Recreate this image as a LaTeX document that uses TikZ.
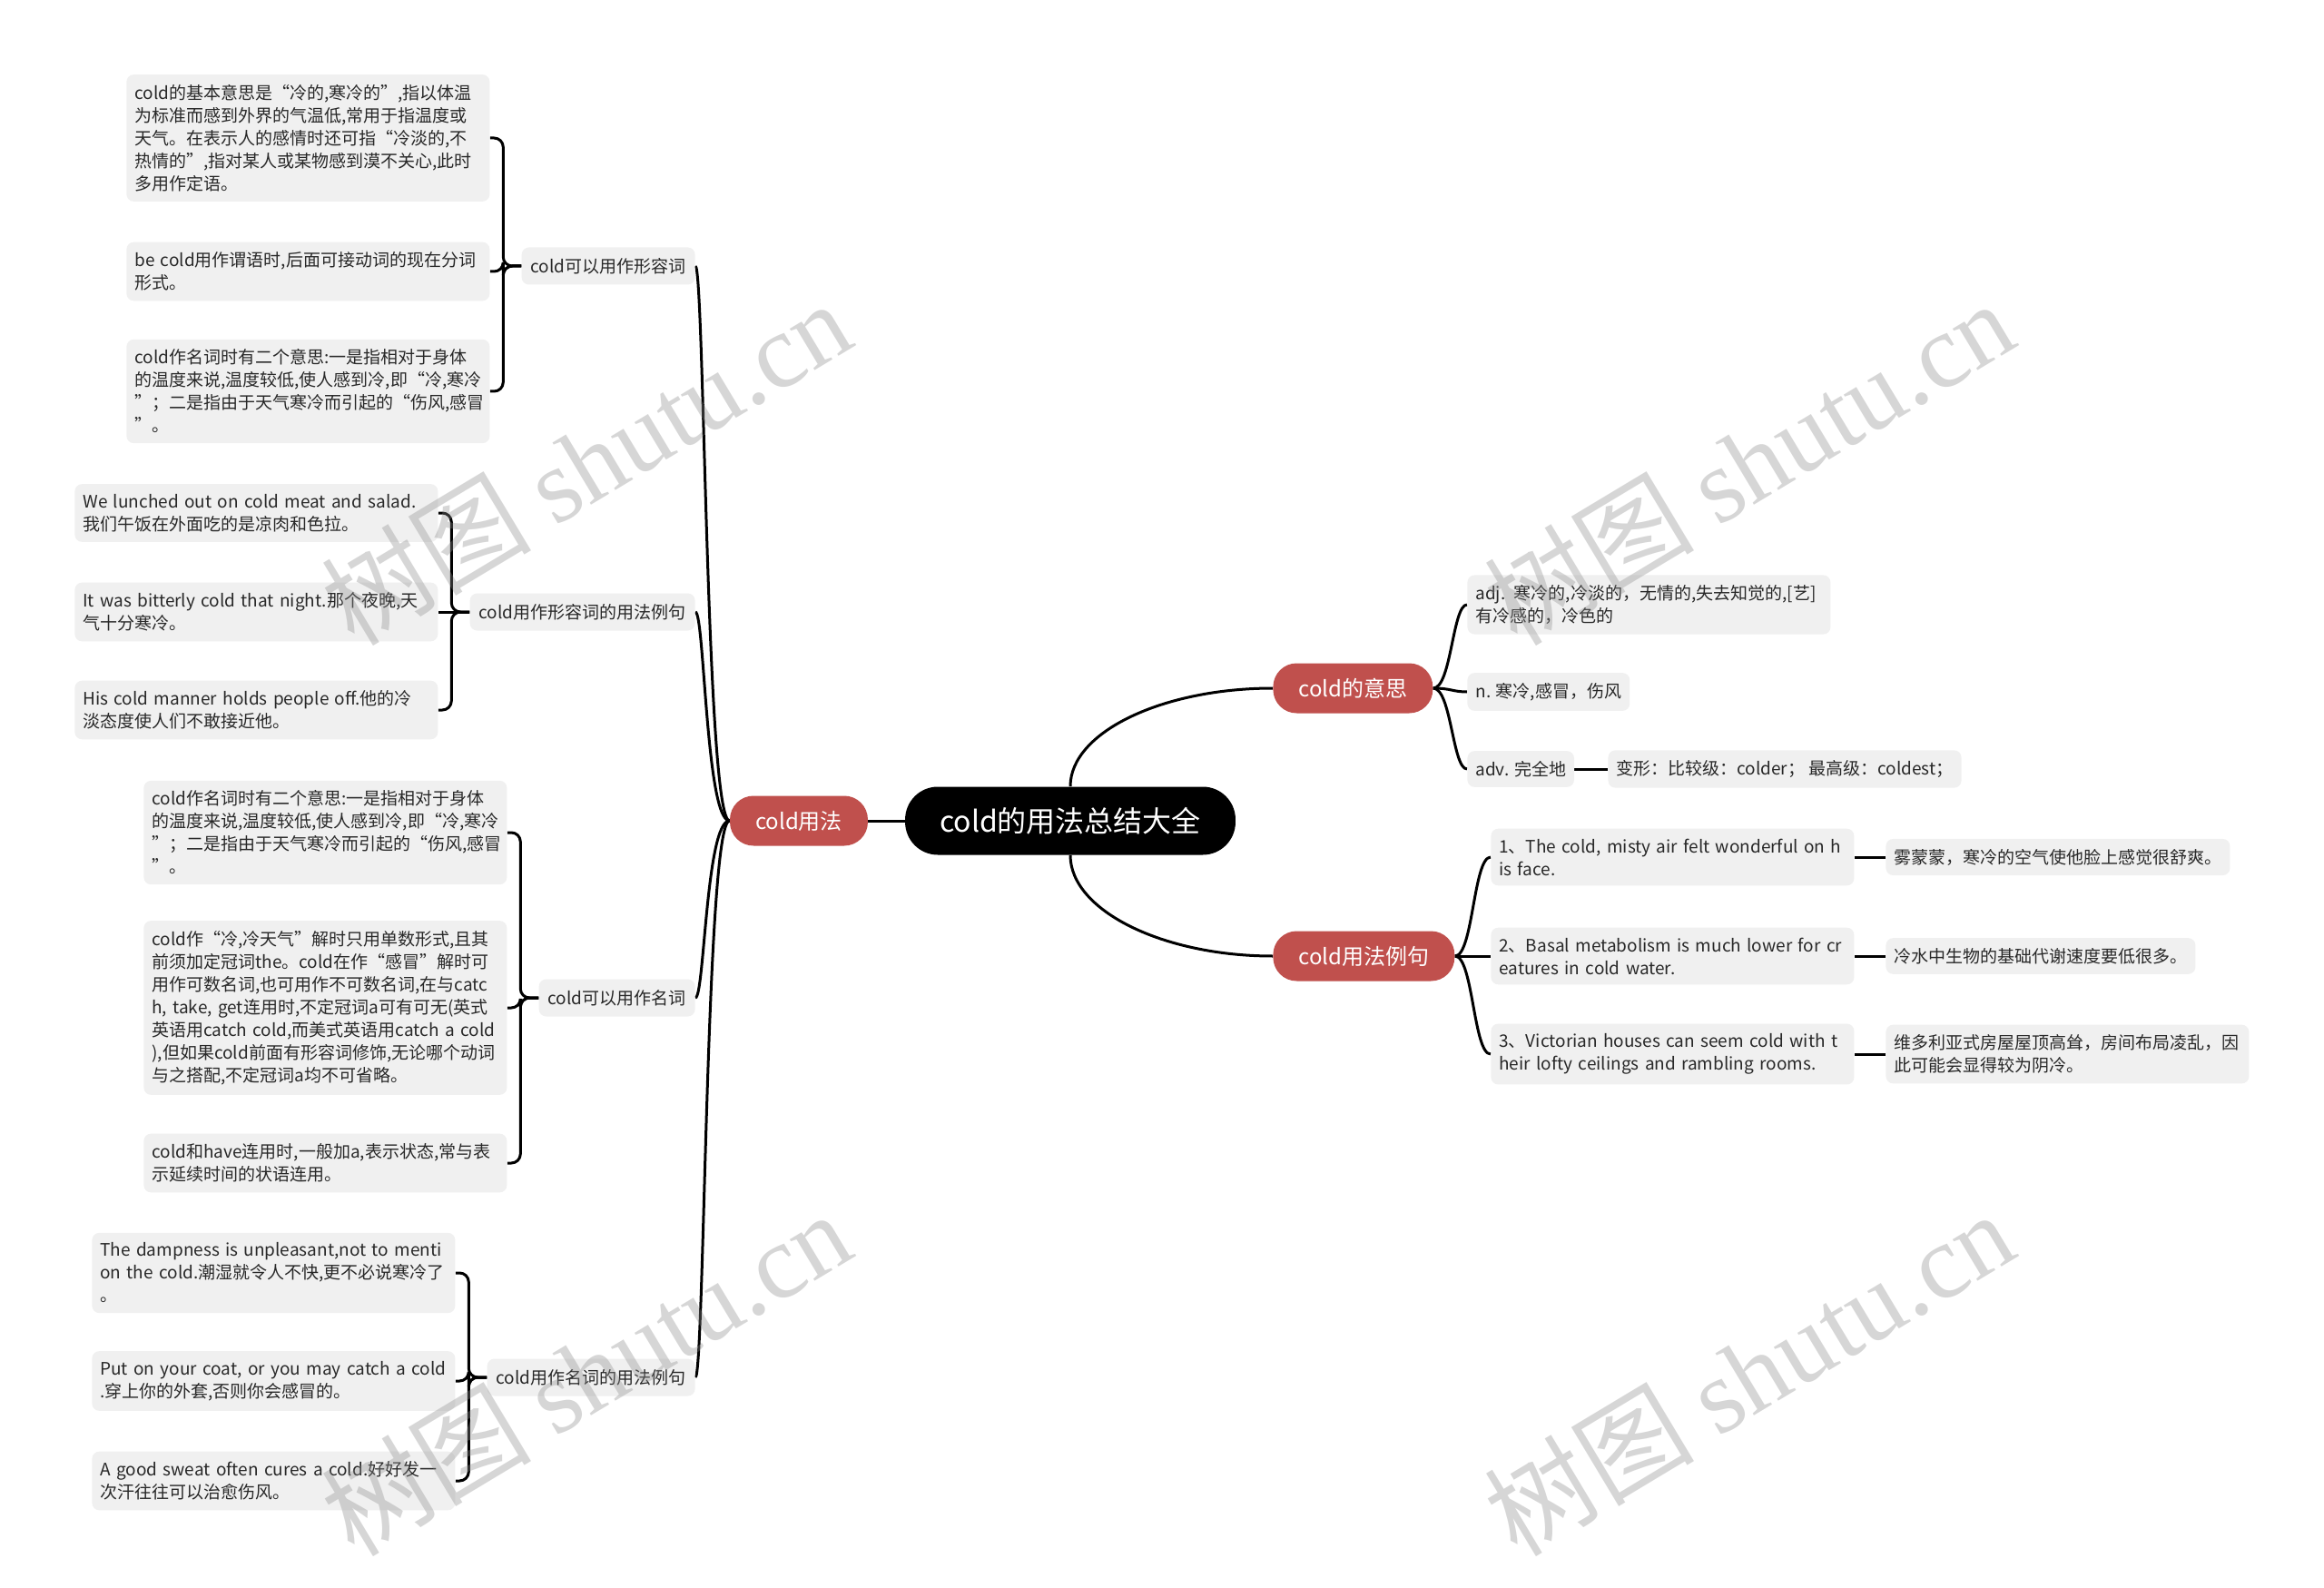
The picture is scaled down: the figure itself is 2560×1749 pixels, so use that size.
\documentclass[tikz,border=0pt]{standalone}
\usepackage{fontspec}
\setmainfont{Noto Sans CJK SC}
\newfontfamily\wmserif{Liberation Serif}
\definecolor{boxgray}{RGB}{240,240,240}
\definecolor{topicred}{RGB}{192,80,77}
\definecolor{ink}{RGB}{40,40,40}
\pgfdeclarelayer{bg}
\pgfsetlayers{bg,main}
\tikzset{
  conn/.style={line width=1.5pt, black},
  rootbox/.style={fill=black, text=white, rounded corners=18pt, minimum height=37.5pt, inner xsep=19pt, font=\fontsize{16}{20}\selectfont},
  topicbox/.style={fill=topicred, text=white, rounded corners=13pt, minimum height=27.5pt, inner xsep=14pt, font=\fontsize{12}{15}\selectfont},
  subbox/.style={fill=boxgray, text=ink, rounded corners=4pt, minimum height=20.5pt, inner xsep=5pt, font=\fontsize{9.5}{12.5}\selectfont},
  leafbox/.style={fill=boxgray, text=ink, rounded corners=4pt, inner xsep=4.5pt, inner ysep=5.5pt, font=\fontsize{9.5}{12.5}\selectfont, align=left, anchor=west},
  widebox/.style={leafbox, text width=191pt},
  wm/.style={rotate=31, text=black!45, text opacity=0.35, font=\fontsize{58}{60}\selectfont},
}
\begin{document}
\begin{tikzpicture}[x=0.5pt,y=-0.5pt]
\useasboundingbox (0,0) rectangle (2560,1749);
\begin{pgfonlayer}{bg}
\fill[white] (0,0) rectangle (2560,1749);
\end{pgfonlayer}

% main nodes
\node[rootbox] (root) at (1179,904) {cold的用法总结大全};
\node[topicbox] (usage) at (880,904) {cold用法};
\node[topicbox, anchor=west] (meaning) at (1402,758) {cold的意思};
\node[topicbox, anchor=west] (examples) at (1402,1053) {cold用法例句};

% left level 2
\node[subbox, anchor=east] (adjA) at (766,293) {cold可以用作形容词};
\node[subbox, anchor=east] (adjEx) at (766,674) {cold用作形容词的用法例句};
\node[subbox, anchor=east] (nounA) at (766,1099) {cold可以用作名词};
\node[subbox, anchor=east] (nounEx) at (766,1517) {cold用作名词的用法例句};

% left leaves
\node[widebox] (a1) at (139,152) {cold的基本意思是“冷的,寒冷的”,指以体温\\为标准而感到外界的气温低,常用于指温度或\\天气。在表示人的感情时还可指“冷淡的,不\\热情的”,指对某人或某物感到漠不关心,此时\\多用作定语。};
\node[widebox] (a2) at (139,299) {be cold用作谓语时,后面可接动词的现在分词\\形式。};
\node[widebox] (a3) at (139,431) {cold作名词时有二个意思:一是指相对于身体\\的温度来说,温度较低,使人感到冷,即“冷,寒冷\\”；二是指由于天气寒冷而引起的“伤风,感冒\\”。};

\node[widebox] (e1) at (82,565) {We lunched out on cold meat and salad.\\我们午饭在外面吃的是凉肉和色拉。};
\node[widebox] (e2) at (82,674) {It was bitterly cold that night.那个夜晚,天\\气十分寒冷。};
\node[widebox] (e3) at (82,782) {His cold manner holds people off.他的冷\\淡态度使人们不敢接近他。};

\node[widebox] (n1) at (158,917) {cold作名词时有二个意思:一是指相对于身体\\的温度来说,温度较低,使人感到冷,即“冷,寒冷\\”；二是指由于天气寒冷而引起的“伤风,感冒\\”。};
\node[widebox] (n2) at (158,1110) {cold作“冷,冷天气”解时只用单数形式,且其\\前须加定冠词the。cold在作“感冒”解时可\\用作可数名词,也可用作不可数名词,在与catc\\h, take, get连用时,不定冠词a可有可无(英式\\英语用catch cold,而美式英语用catch a cold\\),但如果cold前面有形容词修饰,无论哪个动词\\与之搭配,不定冠词a均不可省略。};
\node[widebox] (n3) at (158,1281) {cold和have连用时,一般加a,表示状态,常与表\\示延续时间的状语连用。};

\node[widebox] (x1) at (101,1402) {The dampness is unpleasant,not to menti\\on the cold.潮湿就令人不快,更不必说寒冷了\\。};
\node[widebox] (x2) at (101,1521) {Put on your coat, or you may catch a cold\\.穿上你的外套,否则你会感冒的。};
\node[widebox] (x3) at (101,1631) {A good sweat often cures a cold.好好发一\\次汗往往可以治愈伤风。};

% right leaves
\node[widebox] (adjM) at (1616,666) {adj. 寒冷的,冷淡的，无情的,失去知觉的,[艺]\\有冷感的，冷色的};
\node[leafbox] (nM) at (1616,762) {n. 寒冷,感冒，伤风};
\node[leafbox] (advM) at (1616,847) {adv. 完全地};
\node[leafbox] (formM) at (1771,847) {变形：比较级：colder；~最高级：coldest；};

\node[widebox] (ex1) at (1642,944) {1、The cold, misty air felt wonderful on h\\is face.};
\node[widebox] (ex2) at (1642,1053) {2、Basal metabolism is much lower for cr\\eatures in cold water.};
\node[widebox] (ex3) at (1642,1161) {3、Victorian houses can seem cold with t\\heir lofty ceilings and rambling rooms.};
\node[leafbox] (tr1) at (2077,944) {雾蒙蒙，寒冷的空气使他脸上感觉很舒爽。};
\node[leafbox] (tr2) at (2077,1053) {冷水中生物的基础代谢速度要低很多。};
\node[widebox] (tr3) at (2077,1161) {维多利亚式房屋屋顶高耸，房间布局凌乱，因\\此可能会显得较为阴冷。};

% connectors
\begin{pgfonlayer}{bg}
\draw[conn] (root.west) -- (usage.east);
\draw[conn] (root.north) .. controls +(0,-60) and +(-121,0) .. (meaning.west);
\draw[conn] (root.south) .. controls +(0,61) and +(-121,0) .. (examples.west);
\foreach \c in {adjA,adjEx,nounA,nounEx}
  \draw[conn] (usage.west) .. controls +(-26,0) and +(10,0) .. (\c.east);
\foreach \c in {a1,a2,a3}
  \draw[conn, rounded corners=5pt] (adjA.west) -- ++(-20,0) |- (\c.east);
\foreach \c in {e1,e3}
  \draw[conn, rounded corners=5pt] (adjEx.west) -- ++(-20,0) |- (\c.east);
\draw[conn] (adjEx.west) -- (e2.east);
\foreach \c in {n1,n2,n3}
  \draw[conn, rounded corners=5pt] (nounA.west) -- ++(-20,0) |- (\c.east);
\foreach \c in {x1,x2,x3}
  \draw[conn, rounded corners=5pt] (nounEx.west) -- ++(-20,0) |- (\c.east);
\foreach \c in {adjM,nM,advM}
  \draw[conn] (meaning.east) .. controls +(20,0) and +(-16,0) .. (\c.west);
\draw[conn] (advM.east) -- (formM.west);
\foreach \c in {ex1,ex2,ex3}
  \draw[conn] (examples.east) .. controls +(20,0) and +(-19,0) .. (\c.west);
\foreach \a/\b in {ex1/tr1,ex2/tr2,ex3/tr3}
  \draw[conn] (\a.east) -- (\b.west);
\end{pgfonlayer}

% watermarks
\node[wm] (wm1) at (645,509) {树图 {\wmserif shutu.cn}};
\node[wm] (wm2) at (1926,509) {树图 {\wmserif shutu.cn}};
\node[wm] (wm3) at (645,1512) {树图 {\wmserif shutu.cn}};
\node[wm] (wm4) at (1926,1512) {树图 {\wmserif shutu.cn}};
\end{tikzpicture}
\end{document}
